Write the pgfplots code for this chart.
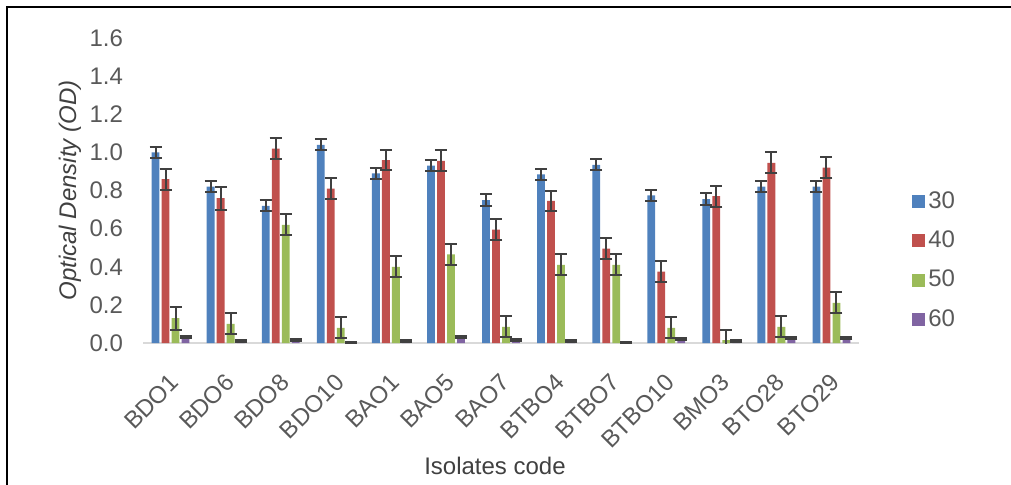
\documentclass[border=0pt]{standalone}
\usepackage{pgfplots}
\pgfplotsset{compat=1.18}
\usepackage{pgfplotstable}
\usepackage{fontspec}
\setmainfont{Liberation Sans}
\definecolor{c30}{HTML}{4F81BD}
\definecolor{c40}{HTML}{C0504D}
\definecolor{c50}{HTML}{9BBB59}
\definecolor{c60}{HTML}{8064A2}
\definecolor{txt}{HTML}{595959}
\definecolor{lab}{HTML}{404040}
\definecolor{errc}{HTML}{404040}
\definecolor{axisc}{HTML}{D9D9D9}
\pgfplotstableread{
x y30 e30 y40 e40 y50 e50 y60 e60
0 1.00 0.03 0.86 0.055 0.13 0.06 0.030 0.005
1 0.82 0.03 0.76 0.060 0.10 0.055 0.010 0.005
2 0.72 0.03 1.02 0.055 0.62 0.055 0.015 0.005
3 1.04 0.03 0.81 0.055 0.08 0.055 0.004 0.002
4 0.89 0.03 0.96 0.055 0.40 0.055 0.010 0.005
5 0.93 0.03 0.955 0.055 0.465 0.055 0.030 0.005
6 0.75 0.03 0.595 0.055 0.085 0.055 0.015 0.005
7 0.885 0.03 0.745 0.055 0.41 0.055 0.012 0.005
8 0.935 0.03 0.495 0.055 0.41 0.055 0.004 0.002
9 0.775 0.03 0.375 0.055 0.08 0.055 0.020 0.005
10 0.755 0.03 0.77 0.055 0.015 0.055 0.012 0.005
11 0.82 0.03 0.945 0.055 0.085 0.055 0.025 0.005
12 0.82 0.03 0.92 0.055 0.21 0.055 0.028 0.005
}\data
\begin{document}
\begin{tikzpicture}
\useasboundingbox (0,0) rectangle (505.5pt,242pt);
\draw[line width=1pt] (3.5pt,-5pt) -- (3.5pt,238.5pt) -- (510pt,238.5pt);
\begin{axis}[
  at={(71.5pt,70.5pt)}, anchor=south west, scale only axis,
  width=358pt, height=152.5pt,
  ymin=0, ymax=1.6, xmin=-0.5, xmax=12.5,
  ybar=1.1pt, bar width=3.9pt,
  xtick={0,1,2,3,4,5,6,7,8,9,10,11,12},
  xticklabels={BDO1,BDO6,BDO8,BDO10,BAO1,BAO5,BAO7,BTBO4,BTBO7,BTBO10,BMO3,BTO28,BTO29},
  ytick={0,0.2,0.4,0.6,0.8,1.0,1.2,1.4,1.6},
  major tick length=0pt,
  axis x line*=bottom, axis y line*=left,
  y axis line style={draw=none},
  x axis line style={draw=axisc, line width=1pt, -},
  /pgf/number format/assume math mode=true,
  tick label style={font=\fontsize{12}{14}\selectfont, text=txt},
  yticklabel style={/pgf/number format/.cd, fixed, fixed zerofill, precision=1, /tikz/.cd, xshift=-6.5pt},
  xticklabel style={xshift=-1pt, yshift=-14.5pt, rotate=45, anchor=north east, inner sep=0pt},
  ylabel={\textit{Optical Density (OD)}},
  ylabel style={at={(axis description cs:-0.102,0.5)}, anchor=center, font=\fontsize{12}{14}\selectfont, text=lab},
  xlabel={Isolates code},
  xlabel style={at={(axis description cs:0.4916,-0.402)}, anchor=center, font=\fontsize{12}{14}\selectfont, text=lab},
  legend style={at={(axis description cs:1.0656,0.52)}, anchor=north west, draw=none, fill=none,
    font=\fontsize{12}{14}\selectfont, text=txt, row sep=6.7pt, nodes={inner sep=1.5pt}},
  legend cell align=left,
  legend image code/.code={\fill[#1] (0pt,-3.25pt) rectangle (6.5pt,3.25pt);},
  error bars/error bar style={draw=errc, line width=1pt},
  error bars/error mark options={draw=errc, line width=1pt, mark size=3pt, rotate=90},
]
\addplot[fill=c30, draw=none, error bars/.cd, y dir=both, y explicit] table[x=x, y=y30, y error=e30] {\data};
\addplot[fill=c40, draw=none, error bars/.cd, y dir=both, y explicit] table[x=x, y=y40, y error=e40] {\data};
\addplot[fill=c50, draw=none, error bars/.cd, y dir=both, y explicit] table[x=x, y=y50, y error=e50] {\data};
\addplot[fill=c60, draw=none, error bars/.cd, y dir=both, y explicit] table[x=x, y=y60, y error=e60] {\data};
\legend{30,40,50,60}
\end{axis}
\end{tikzpicture}
\end{document}
